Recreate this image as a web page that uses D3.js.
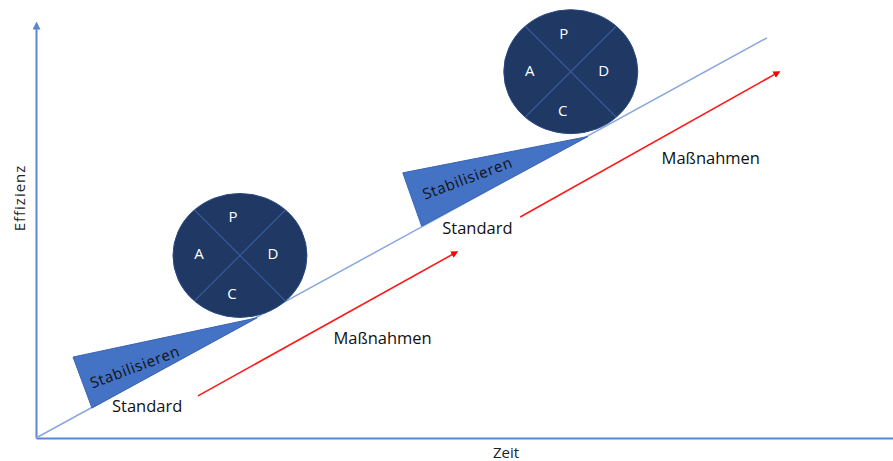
<!DOCTYPE html>
<html>
<head>
<meta charset="utf-8">
<script src="https://cdn.jsdelivr.net/npm/d3@7"></script>
<style>
  html, body { margin: 0; padding: 0; background: #fff; }
  svg { display: block; font-family: "Open Sans", "Noto Sans", sans-serif; }
</style>
</head>
<body>
<svg id="chart" width="893" height="461"></svg>
<script>
// ---- data (x = Zeit, y = Effizienz, both 0..100) ----
const axisLabels = { x: "Zeit", y: "Effizienz" };
const baseLine = [[0, 0], [85.3, 96.9]];
const measureArrows = [
  [[18.9, 10.2], [48.9, 44.8]],
  [[56.5, 53.5], [86.5, 88.4]]
];
const wedges = [
  [[4.32, 19.6], [6.53, 7.26], [25.8, 29.1]],
  [[42.8, 64.2], [45.0, 51.3], [64.4, 73.0]]
];
const wedgeLabels = [[11.6, 16.9], [50.4, 62.6]];
const wedgeText = "Stabilisieren";
const cycles = [[23.8, 44.2], [62.4, 88.7]];
const cycleLetters = ["P", "D", "C", "A"];
const standardLabels = [[8.87, 6.3], [47.4, 49.4]];
const standardText = "Standard";
const measureLabels = [[34.7, 22.8], [73.0, 66.4]];
const measureText = "Maßnahmen";

// ---- layout ----
const svg = d3.select("#chart");
const x = d3.scaleLinear().domain([0, 100]).range([36, 893]);
const y = d3.scaleLinear().domain([0, 100]).range([438, 25]);
const axisColor = "#5b86d4";

const defs = svg.append("defs");
defs.append("marker").attr("id", "axArrow").attr("viewBox", "0 0 10 10")
  .attr("refX", 5).attr("refY", 5).attr("markerWidth", 4).attr("markerHeight", 4)
  .attr("orient", "auto")
  .append("path").attr("d", "M0,0L10,5L0,10Z").attr("fill", axisColor);
defs.append("marker").attr("id", "redArrow").attr("viewBox", "0 0 10 10")
  .attr("refX", 5).attr("refY", 5).attr("markerWidth", 4.5).attr("markerHeight", 4.5)
  .attr("orient", "auto")
  .append("path").attr("d", "M0,0L10,5L0,10Z").attr("fill", "#ff0000");

// axes (no ticks)
const gx = svg.append("g").attr("transform", `translate(0,${y(0)})`)
  .call(d3.axisBottom(x).tickValues([]).tickSizeOuter(0));
gx.select(".domain").attr("stroke", axisColor).attr("stroke-width", 2);
const gy = svg.append("g").attr("transform", `translate(${x(0)},0)`)
  .call(d3.axisLeft(y).tickValues([]).tickSizeOuter(0));
gy.select(".domain").attr("stroke", axisColor).attr("stroke-width", 2)
  .attr("marker-end", "url(#axArrow)");

svg.append("text").attr("x", 506).attr("y", 458).attr("text-anchor", "middle")
  .attr("font-size", 15).attr("fill", "#222").text(axisLabels.x);
svg.append("text").attr("transform", "translate(25,198) rotate(-90)")
  .attr("text-anchor", "middle").attr("font-size", 15).attr("letter-spacing", 1)
  .attr("fill", "#222").text(axisLabels.y);

const line = d3.line().x(d => x(d[0])).y(d => y(d[1]));

// base line
svg.append("path").attr("d", line(baseLine)).attr("fill", "none")
  .attr("stroke", "#8aa8de").attr("stroke-width", 1.5);

// red arrows
svg.selectAll(".measure").data(measureArrows).join("path")
  .attr("class", "measure").attr("d", d => line(d)).attr("fill", "none")
  .attr("stroke", "#ff1a1a").attr("stroke-width", 1.6)
  .attr("marker-end", "url(#redArrow)");

// wedges
svg.selectAll(".wedge").data(wedges).join("path")
  .attr("class", "wedge").attr("d", d => line(d) + "Z")
  .attr("fill", "#4472c4").attr("stroke", "#3b65b3").attr("stroke-width", 1);
svg.selectAll(".wedgeLabel").data(wedgeLabels).join("text")
  .attr("class", "wedgeLabel")
  .attr("transform", d => `translate(${x(d[0])},${y(d[1])}) rotate(-20.5)`)
  .attr("text-anchor", "middle").attr("dominant-baseline", "middle")
  .attr("font-size", 15).attr("letter-spacing", 0.7).attr("fill", "#111")
  .text(wedgeText);

// PDCA circles
const rx = 67, ry = 62;
const letterOffsets = { P: [-7, -37], D: [33, 0], C: [-8, 40], A: [-41, 0] };
cycles.forEach((c, i) => {
  const cx = x(c[0]), cy = y(c[1]);
  const cp = defs.append("clipPath").attr("id", "clip" + i);
  cp.append("ellipse").attr("cx", cx).attr("cy", cy).attr("rx", rx).attr("ry", ry);
  const g = svg.append("g");
  g.append("ellipse").attr("cx", cx).attr("cy", cy).attr("rx", rx).attr("ry", ry)
    .attr("fill", "#1f3864").attr("stroke", "#2a4a85").attr("stroke-width", 1);
  const cg = g.append("g").attr("clip-path", `url(#clip${i})`);
  [[1, 1], [1, -1]].forEach(([a, b]) => {
    cg.append("line").attr("x1", cx - 80 * a).attr("y1", cy - 80 * b)
      .attr("x2", cx + 80 * a).attr("y2", cy + 80 * b)
      .attr("stroke", "#3a5c9c").attr("stroke-width", 1.2);
  });
  g.selectAll("text").data(cycleLetters).join("text")
    .attr("x", d => cx + letterOffsets[d][0]).attr("y", d => cy + letterOffsets[d][1])
    .attr("text-anchor", "middle").attr("dominant-baseline", "middle")
    .attr("font-size", 15).attr("fill", "#fff").text(d => d);
});

// labels
svg.selectAll(".std").data(standardLabels).join("text").attr("class", "std")
  .attr("x", d => x(d[0])).attr("y", d => y(d[1]))
  .attr("font-size", 16.5).attr("fill", "#111").text(standardText);
svg.selectAll(".msr").data(measureLabels).join("text").attr("class", "msr")
  .attr("x", d => x(d[0])).attr("y", d => y(d[1]))
  .attr("font-size", 16.5).attr("fill", "#111").text(measureText);
</script>
</body>
</html>
